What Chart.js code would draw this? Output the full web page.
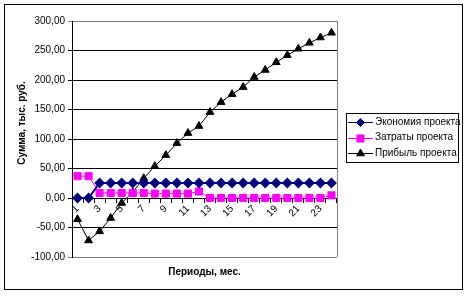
<!DOCTYPE html>
<html>
<head>
<meta charset="utf-8">
<script src="https://cdn.jsdelivr.net/npm/chart.js@4"></script>
<style>
  body { margin: 0; background: #fff; }
  #chart { display: block; }
</style>
</head>
<body>
<canvas id="chart" width="466" height="296"></canvas>
<script>
const periods = ['1','2','3','4','5','6','7','8','9','10','11','12','13','14','15','16','17','18','19','20','21','22','23','24'];
const economy = [0, 0, 25.4, 25.4, 25.4, 25.4, 25.4, 25.4, 25.4, 25.4, 25.4, 25.4, 25.4, 25.4, 25.4, 25.4, 25.4, 25.4, 25.4, 25.4, 25.4, 25.4, 25.4, 25.4];
const costs = [37, 37, 8.5, 8.5, 8.5, 8.5, 8.5, 7.5, 7.5, 7.5, 7.5, 11, 0, 0, 0, 0, 0, 0, 0, 0, 0, 0, 0, 4.5];
const profit = [-36, -72, -56.5, -34, -8.5, 10, 33.5, 54, 72.5, 93, 110, 122, 145.5, 162.5, 176, 188, 205, 217, 230, 242, 253, 263, 272, 280];
const seriesNames = ['Экономия проекта', 'Затраты проекта', 'Прибыль проекта'];
const yTitle = 'Сумма, тыс. руб.';
const xTitle = 'Периоды, мес.';

const FONT = '"Liberation Sans", Arial, sans-serif';

// рамка, заголовок оси Y, правая граница области и легенда
const extras = {
  id: 'extras',
  beforeDraw(chart) {
    const c = chart.ctx;
    c.save();
    c.fillStyle = '#fff';
    c.fillRect(0, 0, chart.width, chart.height);
    c.strokeStyle = '#000';
    c.lineWidth = 1;
    c.strokeRect(4.5, 4.5, 458, 285);
    c.restore();
  },
  afterDatasetsDraw(chart) {
    const c = chart.ctx;
    const a = chart.chartArea;
    c.save();
    c.strokeStyle = '#808080';
    c.lineWidth = 1;
    c.beginPath();
    c.moveTo(Math.round(a.right) + 0.5, a.top);
    c.lineTo(Math.round(a.right) + 0.5, a.bottom);
    c.stroke();

    // y title
    c.fillStyle = '#000';
    c.font = 'bold 10px ' + FONT;
    c.textAlign = 'center';
    c.textBaseline = 'middle';
    c.translate(22, 123);
    c.rotate(-Math.PI / 2);
    c.fillText(yTitle, 0, 0);
    c.restore();

    // legend
    c.save();
    c.strokeStyle = '#000';
    c.lineWidth = 1;
    c.strokeRect(346.5, 113.5, 112, 49);
    c.font = '10px ' + FONT;
    c.textBaseline = 'middle';
    c.textAlign = 'left';
    chart.data.datasets.forEach((ds, i) => {
      const y = 122 + i * 15.5;
      c.strokeStyle = ds.borderColor;
      c.lineWidth = 1;
      c.beginPath();
      c.moveTo(348, Math.round(y) + 0.5);
      c.lineTo(373, Math.round(y) + 0.5);
      c.stroke();
      c.fillStyle = ds.pointBackgroundColor;
      c.strokeStyle = ds.pointBorderColor;
      Chart.helpers.drawPoint(c, {
        pointStyle: ds.pointStyle,
        radius: ds.pointRadius,
        rotation: 0,
        borderWidth: 1
      }, 360.5, Math.round(y) + 0.5);
      c.fillStyle = '#000';
      c.fillText(ds.label, 375, y);
    });
    c.restore();
  }
};

const fmt = (v) => v.toFixed(2).replace('.', ',');

new Chart(document.getElementById('chart'), {
  type: 'line',
  data: {
    labels: periods,
    datasets: [
      {
        label: seriesNames[0],
        data: economy,
        borderColor: '#000080',
        borderWidth: 2,
        pointStyle: 'rectRot',
        pointRadius: 4,
        pointBackgroundColor: '#000080',
        pointBorderColor: '#000080',
        tension: 0
      },
      {
        label: seriesNames[1],
        data: costs,
        borderColor: '#FF00FF',
        borderWidth: 1,
        pointStyle: 'rect',
        pointRadius: 5,
        pointBackgroundColor: '#FF00FF',
        pointBorderColor: '#FF00FF',
        tension: 0
      },
      {
        label: seriesNames[2],
        data: profit,
        borderColor: '#000000',
        borderWidth: 1,
        pointStyle: 'triangle',
        pointRadius: 4.5,
        pointBackgroundColor: '#000000',
        pointBorderColor: '#000000',
        tension: 0
      }
    ]
  },
  options: {
    responsive: false,
    animation: false,
    devicePixelRatio: 1,
    layout: { padding: { left: 0, right: 129, top: 21, bottom: 0 } },
    plugins: {
      legend: { display: false },
      tooltip: { enabled: false },
      title: {
        display: true,
        text: xTitle,
        position: 'bottom',
        fullSize: false,
        color: '#000',
        font: { family: FONT, size: 10, weight: 'bold' },
        padding: { top: 9, bottom: 18 }
      }
    },
    scales: {
      x: {
        type: 'category',
        position: { y: 0 },
        offset: true,
        grid: {
          display: true,
          offset: true,
          drawOnChartArea: false,
          drawTicks: true,
          tickLength: 4,
          color: '#000'
        },
        border: { display: true, color: '#000', width: 1 },
        ticks: {
          autoSkip: false,
          minRotation: 45,
          maxRotation: 45,
          padding: 1,
          color: '#000',
          font: { family: FONT, size: 10 },
          callback: function (val, i) { return i % 2 === 0 ? this.getLabelForValue(val) : ''; }
        }
      },
      y: {
        min: -100,
        max: 300,
        afterFit(scale) { scale.width = 72; },
        grid: {
          color: (ctx) => (ctx.tick && (ctx.tick.value === 300 || ctx.tick.value === -100)) ? '#808080' : '#000',
          tickLength: 4,
          drawTicks: true
        },
        border: { display: true, color: '#000', width: 1 },
        ticks: {
          stepSize: 50,
          padding: 3,
          color: '#000',
          font: { family: FONT, size: 10 },
          callback: (v) => fmt(v)
        }
      }
    }
  },
  plugins: [extras]
});
</script>
</body>
</html>
